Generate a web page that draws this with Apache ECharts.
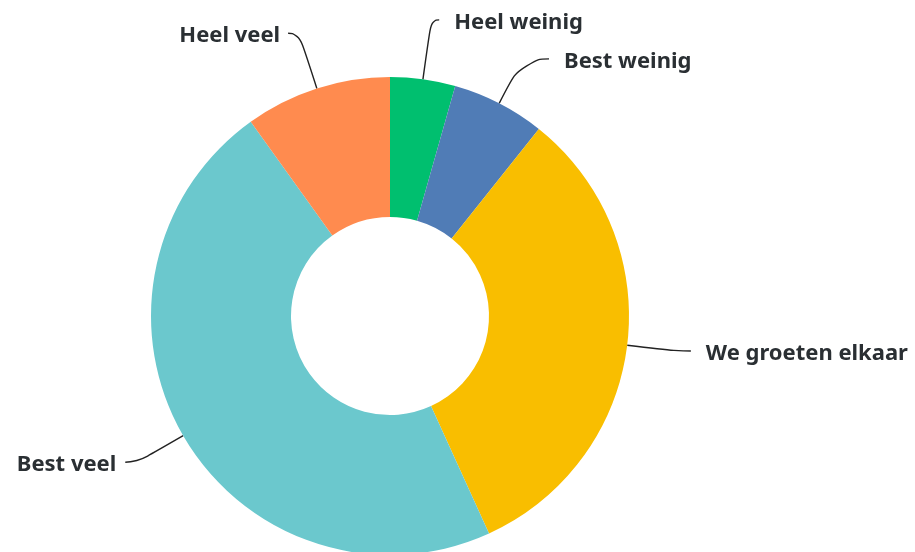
<!DOCTYPE html>
<html>
<head>
<meta charset="utf-8">
<script src="https://cdn.jsdelivr.net/npm/echarts@6/dist/echarts.min.js"></script>
<style>html,body{margin:0;padding:0;background:#fff;}#c{width:915px;height:552px;}</style>
</head>
<body>
<div id="c"></div>
<script>
var categories = ['Heel weinig', 'Best weinig', 'We groeten elkaar', 'Best veel', 'Heel veel'];
var values = [4.4, 6.3, 32.5, 46.9, 9.9];
var colors = ['#00BF6F', '#507CB6', '#F9BE00', '#6BC8CD', '#FF8B4F'];
var lineLen1 = [60, 50, 47, 53, 58];
var lineLen2 = [8, 27, 17, 12, 11];
var labelGap = [15, 15, 15, 9, 8];

var chart = echarts.init(document.getElementById('c'), null, {renderer: 'canvas'});
chart.setOption({
  animation: false,
  series: [{
    type: 'pie',
    center: [390, 316],
    radius: [99, 239],
    startAngle: 90,
    clockwise: true,
    avoidLabelOverlap: false,
    label: {
      show: true,
      position: 'outer',
      formatter: '{t|{b}}',
      rich: {
        t: {
          color: '#2a2f33',
          fontFamily: 'Noto Sans',
          fontWeight: 'bold',
          fontSize: 22,
          padding: [5, 0, 0, 0]
        }
      }
    },
    labelLine: {
      show: true,
      smooth: 0.6,
      lineStyle: {color: '#222', width: 1.4}
    },
    itemStyle: {borderWidth: 0},
    emphasis: {disabled: true},
    data: categories.map(function (name, i) {
      return {
        name: name,
        value: values[i],
        itemStyle: {color: colors[i]},
        label: {distanceToLabelLine: labelGap[i]},
        labelLine: {length: lineLen1[i], length2: lineLen2[i]}
      };
    })
  }]
});
</script>
</body>
</html>
